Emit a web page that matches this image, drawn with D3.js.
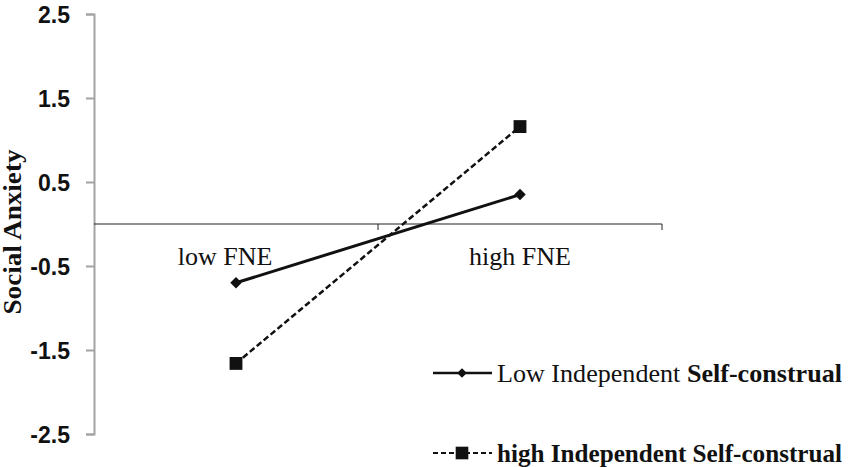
<!DOCTYPE html>
<html>
<head>
<meta charset="utf-8">
<script src="https://cdn.jsdelivr.net/npm/d3@7"></script>
<style>
	body { margin: 0; background: #fff; }
	.ytick text { font-family: "Liberation Sans", Arial, sans-serif; font-weight: bold; font-size: 23px; fill: #111; }
	.serif { font-family: "Liberation Serif", "Times New Roman", serif; fill: #111; }
</style>
</head>
<body>
<div id="root"></div>
<script>
// data
const categories = ["low FNE", "high FNE"];
const lowIndependent = [-0.70, 0.35];
const highIndependent = [-1.66, 1.16];
const yTicks = [2.5, 1.5, 0.5, -0.5, -1.5, -2.5];
const seriesNames = ["Low Independent ", "high Independent "];

function whenDocumentLoaded(action) {
	if (document.readyState === "loading") {
		document.addEventListener("DOMContentLoaded", action);
	} else {
		action();
	}
}

function drawChart() {
	const width = 854;
	const height = 467;

	let svg = d3.select("#root")
				.append("svg")
				.attr("width", width)
				.attr("height", height);

	const y = d3.scaleLinear().domain([-2.5, 2.5]).range([434, 14]);
	const x = d3.scaleBand().domain(categories).range([94, 662]);

	// y axis (plain hyphen for negatives, like the original)
	const yAxis = svg.append("g")
		.attr("class", "ytick")
		.attr("transform", "translate(94,0)")
		.call(d3.axisLeft(y).tickValues(yTicks).tickFormat(d => d.toFixed(1)).tickSizeOuter(0).tickSize(8).tickPadding(16));
	yAxis.select(".domain").attr("stroke", "#a3a3a3").attr("stroke-width", 2);
	yAxis.selectAll(".tick line").attr("stroke", "#a3a3a3").attr("stroke-width", 2);
	yAxis.selectAll(".tick text").attr("dy", "0.36em");

	// horizontal category axis at zero
	const xAxis = svg.append("g")
		.attr("transform", "translate(0," + y(0) + ")")
		.call(d3.axisBottom(x).tickSize(0).tickFormat(""));
	xAxis.select(".domain").attr("stroke", "#222").attr("stroke-width", 1.2).attr("d", "M94,0H662");
	// band boundary ticks
	xAxis.selectAll(".bound")
		.data(categories.slice(1).map(c => x(c)).concat([x.range()[1]]))
		.enter()
		.append("line")
		.attr("x1", d => d).attr("x2", d => d)
		.attr("y1", 0).attr("y2", 6)
		.attr("stroke", "#222");

	// category labels
	svg.selectAll(".cat")
		.data(categories)
		.enter()
		.append("text")
		.attr("class", "serif")
		.attr("x", (d, i) => x(d) + x.bandwidth() / 2 + (i === 0 ? -11 : 0))
		.attr("y", 265)
		.attr("text-anchor", "middle")
		.style("font-size", "26px")
		.text(d => d);

	const cx = d => x(d) + x.bandwidth() / 2;
	const line = d3.line().x((d, i) => cx(categories[i])).y(d => y(d));

	// series lines
	svg.append("path")
		.datum(lowIndependent)
		.attr("d", line)
		.attr("fill", "none")
		.attr("stroke", "#111")
		.attr("stroke-width", 3);

	svg.append("path")
		.datum(highIndependent)
		.attr("d", line)
		.attr("fill", "none")
		.attr("stroke", "#111")
		.attr("stroke-width", 2.5)
		.attr("stroke-dasharray", "6,3");

	const diamond = d3.symbol().type(d3.symbolDiamond2).size(85);
	const square = d3.symbol().type(d3.symbolSquare).size(165);

	svg.selectAll(".dia")
		.data(lowIndependent)
		.enter()
		.append("path")
		.attr("d", diamond)
		.attr("transform", (d, i) => "translate(" + cx(categories[i]) + "," + y(d) + ")")
		.attr("fill", "#111");

	svg.selectAll(".sq")
		.data(highIndependent)
		.enter()
		.append("path")
		.attr("d", square)
		.attr("transform", (d, i) => "translate(" + cx(categories[i]) + "," + y(d) + ")")
		.attr("fill", "#111");

	// y axis title
	svg.append("text")
		.attr("class", "serif")
		.attr("transform", "translate(21,232) rotate(-90)")
		.attr("text-anchor", "middle")
		.style("font-size", "25px")
		.style("font-weight", "bold")
		.attr("textLength", 165)
		.attr("lengthAdjust", "spacingAndGlyphs")
		.text("Social Anxiety");

	// legend
	const legend = svg.append("g").attr("class", "legend");
	const rows = [373, 453];
	rows.forEach((ly, i) => {
		legend.append("line")
			.attr("x1", 433).attr("x2", 492)
			.attr("y1", ly).attr("y2", ly)
			.attr("stroke", "#111")
			.attr("stroke-width", i === 0 ? 2.5 : 2)
			.attr("stroke-dasharray", i === 0 ? null : "5,3");
		legend.append("path")
			.attr("d", i === 0 ? d3.symbol().type(d3.symbolDiamond2).size(60)() : d3.symbol().type(d3.symbolSquare).size(160)())
			.attr("transform", "translate(462," + ly + ")")
			.attr("fill", "#111");
		const t = legend.append("text")
			.attr("class", "serif")
			.attr("x", 497)
			.attr("y", ly + 9)
			.style("font-size", "26px")
			.style("font-weight", i === 0 ? "normal" : "bold")
			.attr("textLength", 345)
			.attr("lengthAdjust", "spacingAndGlyphs");
		t.append("tspan").text(seriesNames[i]);
		t.append("tspan").style("font-weight", "bold").text("Self-construal");
	});
}

whenDocumentLoaded(() => {
	drawChart();
});
</script>
</body>
</html>
